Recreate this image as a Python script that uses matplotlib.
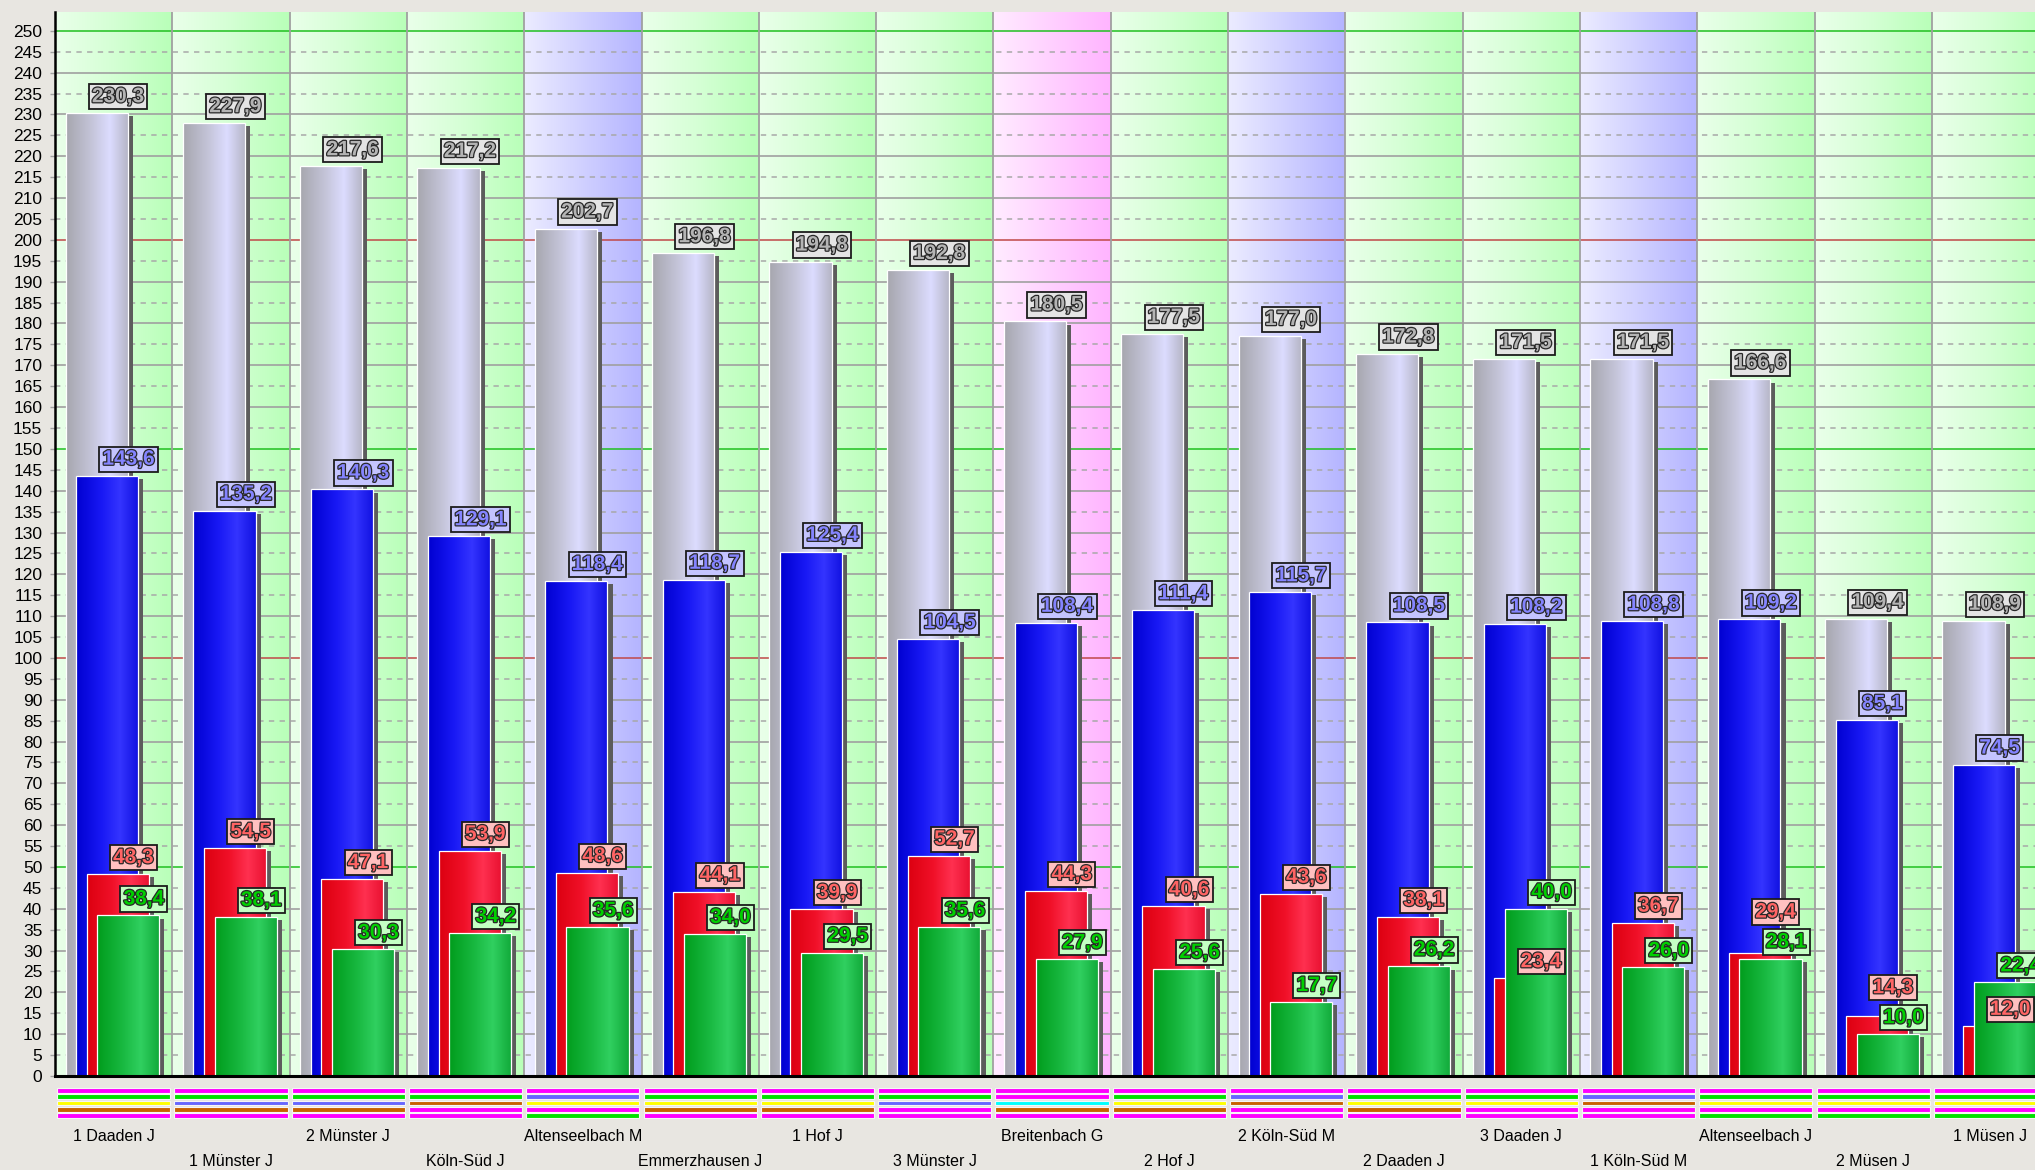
import numpy as np
import matplotlib
matplotlib.use("Agg")
import matplotlib.pyplot as plt
import matplotlib.patheffects as pe
from matplotlib.colors import LinearSegmentedColormap

groups = ["1 Daaden J", "1 Münster J", "2 Münster J", "Köln-Süd J", "Altenseelbach M",
          "Emmerzhausen J", "1 Hof J", "3 Münster J", "Breitenbach G", "2 Hof J",
          "2 Köln-Süd M", "2 Daaden J", "3 Daaden J", "1 Köln-Süd M", "Altenseelbach J",
          "2 Müsen J", "1 Müsen J"]
gray_vals = [230.3, 227.9, 217.6, 217.2, 202.7, 196.8, 194.8, 192.8, 180.5,
             177.5, 177.0, 172.8, 171.5, 171.5, 166.6, 109.4, 108.9]
blue_vals = [143.6, 135.2, 140.3, 129.1, 118.4, 118.7, 125.4, 104.5, 108.4,
             111.4, 115.7, 108.5, 108.2, 108.8, 109.2, 85.1, 74.5]
red_vals = [48.3, 54.5, 47.1, 53.9, 48.6, 44.1, 39.9, 52.7, 44.3,
            40.6, 43.6, 38.1, 23.4, 36.7, 29.4, 14.3, 12.0]
green_vals = [38.4, 38.1, 30.3, 34.2, 35.6, 34.0, 29.5, 35.6, 27.9,
              25.6, 17.7, 26.2, 40.0, 26.0, 28.1, 10.0, 22.4]
# colour stripes under each group, top to bottom
stripes = ["MGYBM", "MGSBM", "MGSBM", "MGBMM", "MSYMG", "MGYBM", "MGYBM", "MGSMM",
           "MMCBM", "MGYBM", "MSBMM", "MGYBM", "MGYMM", "MSBMM", "MGYMG", "MGYMG", "MGYMG"]

stripe_colors = {"M": "#ff00ff", "G": "#00e000", "Y": "#ffff00", "B": "#c86000",
                 "S": "#6666ff", "C": "#00ffff"}
bg_maps = {
    "J": LinearSegmentedColormap.from_list("bgJ", ["#eaffea", "#d4ffd4", "#b8ffb8"]),
    "M": LinearSegmentedColormap.from_list("bgM", ["#ececff", "#d0d0ff", "#b4b4ff"]),
    "G": LinearSegmentedColormap.from_list("bgG", ["#ffecff", "#ffd0ff", "#ffb4ff"]),
}

series = [
    (gray_vals, 0.09, ["#a6a6ae", "#c4c4d8", "#dcdcff", "#b4b4c4"], "#e4e4e4", "#b4b4b4"),
    (blue_vals, 0.18, ["#0000d0", "#1818f4", "#3434ff", "#1010e0"], "#c4c4ff", "#8484ff"),
    (red_vals, 0.27, ["#dc0010", "#f01028", "#ff3050", "#e81030"], "#ffc0c0", "#ff6464"),
    (green_vals, 0.36, ["#009c1c", "#18b840", "#30d060", "#10a838"], "#c4ffc4", "#00d000"),
]
bar_w = 0.53

plt.rcParams["font.family"] = ["Liberation Sans", "DejaVu Sans"]

fig = plt.figure(figsize=(20.35, 11.7), dpi=100)
fig.patch.set_facecolor("#e8e6e1")
ax = fig.add_axes([55 / 2035, 94 / 1170, 1980 / 2035, 1064 / 1170])
ymax = 254.5
px = ymax / 1064  # data units per pixel (vertical)
x = np.arange(len(groups))
grad = np.linspace(0, 1, 256).reshape(1, -1)

# group backgrounds
for i, name in enumerate(groups):
    ax.imshow(grad, cmap=bg_maps[name[-1]], extent=[i - 0.5, i + 0.5, 0, ymax],
              aspect="auto", interpolation="bilinear", zorder=0)

# grid
for v in range(5, 255, 5):
    if v % 50 == 0:
        col = "#20c020" if (v // 50) % 2 == 1 else "#c04848"
        ax.axhline(v, color=col, lw=1.1, zorder=0.5)
    elif v % 10 == 0:
        ax.axhline(v, color="#a0a0a0", lw=1.2, zorder=0.5)
    else:
        ax.axhline(v, color="#a8a8a8", lw=1.1, dashes=(3.5, 3.5), zorder=0.5)
for b in x[1:] - 0.5:
    ax.axvline(b, color="#a0a0a0", lw=1.3, zorder=0.5)

# bars
z = 2
for vals, off, stops, _, _ in series:
    left = x - 0.5 + off
    ax.bar(left + 0.043, np.array(vals) - 0.75, width=bar_w, align="edge",
           color="#5c5c5c", zorder=z)
    bars = ax.bar(left, vals, width=bar_w, align="edge", color=stops[2], zorder=z + 0.1)
    cmap = LinearSegmentedColormap.from_list("c", list(zip([0, 0.4, 0.7, 1.0], stops)))
    for p, l, v in zip(bars.patches, left, vals):
        im = ax.imshow(grad, cmap=cmap, extent=[l, l + bar_w, 0, v], aspect="auto",
                       interpolation="bilinear", zorder=z + 0.2)
        im.set_clip_path(p)
    ax.bar(left, vals, width=bar_w, align="edge", fill=False, edgecolor="white",
           lw=0.9, zorder=z + 0.3)
    z += 1

# value labels: placed just above the bar, pushed up when they would hit
# the label of the next series (last series placed first)
box_h = 28 * px
placed = [None] * len(groups)
for vals, off, _, box_col, txt_col in reversed(series):
    left = x - 0.5 + off
    for i, (l, v) in enumerate(zip(left, vals)):
        bottom = v + 4 * px
        below = placed[i]
        if below is not None and bottom < below + box_h + 2 * px and bottom + box_h > below:
            bottom = below + box_h + 2 * px
        placed[i] = bottom
        ax.annotate(f"{v:.1f}".replace(".", ","), xy=(l + 0.225, bottom), xytext=(0, 3),
                    textcoords="offset pixels", ha="left", va="bottom",
                    fontsize=15, fontweight="bold", color=txt_col, zorder=10,
                    path_effects=[pe.Stroke(linewidth=1.8, foreground="#282828"), pe.Normal()],
                    bbox=dict(boxstyle="square,pad=0.15", fc=box_col, ec="#1c1c1c", lw=1.3))

ax.set_xlim(-0.5, -0.5 + 1980 / 117.3)
ax.set_ylim(0, ymax)
ax.set_yticks(range(0, 251, 5))
ax.tick_params(axis="y", length=3.6, width=1, color="#a0a0a0", pad=5.5, labelsize=12.5)
ax.set_xticks(x[::2], labels=groups[::2])
ax.set_xticks(x[1::2], labels=groups[1::2], minor=True)
ax.tick_params(axis="x", which="major", length=0, pad=38.5, labelsize=11.5)
ax.tick_params(axis="x", which="minor", length=0, pad=56, labelsize=11.5)
for s in ["top", "right"]:
    ax.spines[s].set_visible(False)
ax.spines["left"].set_linewidth(1.8)
ax.spines["bottom"].set_linewidth(2.2)
ax.spines["left"].set_zorder(12)
ax.spines["bottom"].set_zorder(12)

# colour stripes below the axis
ax2 = fig.add_axes([55 / 2035, 51 / 1170, 1980 / 2035, 32 / 1170])
for i, code in enumerate(stripes):
    for r, c in enumerate(code):
        ax2.bar(i, 0.78, bottom=r + 0.11, width=0.965, color=stripe_colors[c],
                edgecolor="#f6f6f6", lw=0.8)
ax2.set_xlim(ax.get_xlim())
ax2.set_ylim(5, 0)
ax2.axis("off")

fig.savefig("out.png", dpi=100, facecolor=fig.get_facecolor())
